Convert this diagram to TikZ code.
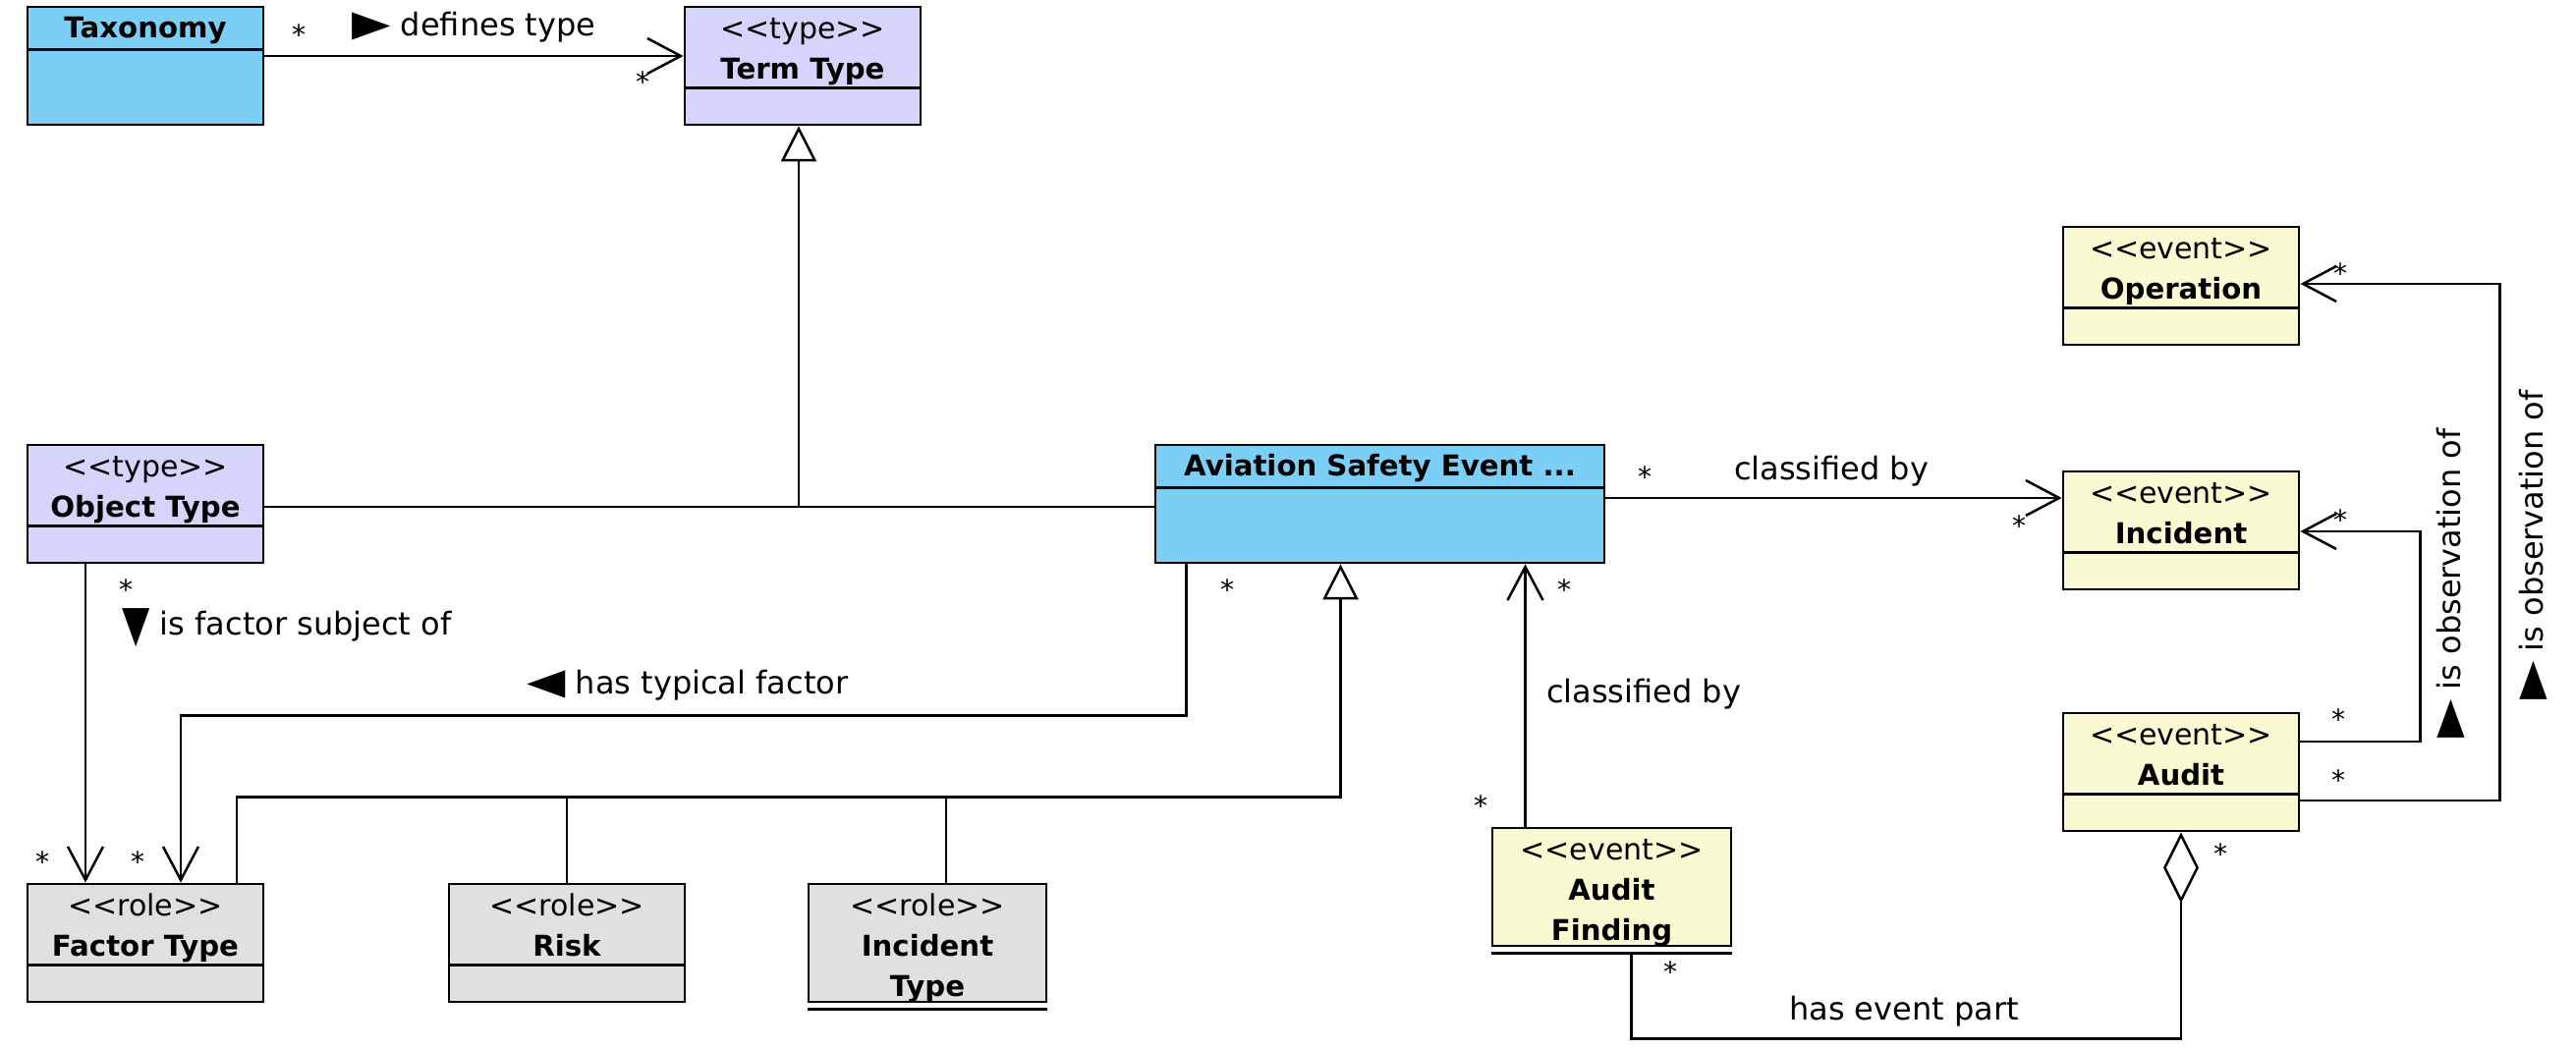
\documentclass[tikz,border=0pt]{standalone}
\usepackage{fontspec}
\usepackage{graphicx}
\setmainfont{DejaVu Sans}
\usetikzlibrary{arrows.meta,calc}

\definecolor{skyBlue}{RGB}{123,206,244}
\definecolor{typeLilac}{RGB}{213,212,250}
\definecolor{roleGray}{RGB}{224,224,224}
\definecolor{eventYellow}{RGB}{250,250,210}

\newcommand{\stereotype}[1]{<\kern0pt<#1>\kern0pt>}
\newcommand{\rdir}{\scalebox{1.6}[1.15]{▶}}
\newcommand{\ldir}{\scalebox{1.6}[1.15]{◀}}
\newcommand{\ddir}{\raisebox{-3pt}{\scalebox{1.15}[1.6]{▼}}}

\tikzset{
	umlbox/.style = {draw, line width = 1.4pt, minimum width = 120pt, minimum height = 60pt, inner sep = 0pt},
	umlline/.style = {line width = 1.4pt},
	stereo/.style = {font = \fontsize{15}{18}\selectfont, inner sep = 0pt, text height = 12.5pt, text depth = 2pt},
	cname/.style = {font = \bfseries\fontsize{14.6}{18}\selectfont, inner sep = 0pt, text height = 12.5pt, text depth = 2pt},
	lbl/.style = {font = \fontsize{16}{19}\selectfont, inner sep = 0pt, text height = 12pt, text depth = 3.5pt},
	mult/.style = {font = \fontsize{14}{16}\selectfont, inner sep = 0pt, yshift = -3.5pt},
	conn/.style = {line width = 1.25pt},
	assoc/.style = {conn, -{Straight Barb[length = 17pt, width = 18pt]}},
	gen/.style = {conn, -{Triangle[open, fill = white, length = 18pt, width = 18pt]}},
	aggr/.style = {conn, {Diamond[open, fill = white, length = 36pt, width = 18pt]}-}
}

\begin{document}
\begin{tikzpicture}[x = 0.5pt, y = -0.5pt]
	\useasboundingbox (0, 0) rectangle (2622, 1068);
	
	% classes
	\node[umlbox, fill = skyBlue] (taxonomy) at (148, 67) {};
	\draw[umlline] ($(taxonomy.north west) + (0, 45)$) -- ($(taxonomy.north east) + (0, 45)$);
	\node[cname] (taxonomyname) at ($(taxonomy.north) + (0, 22)$) {Taxonomy};
	
	\node[umlbox, fill = typeLilac] (termtype) at (817, 67) {};
	\draw[umlline] ($(termtype.north west) + (0, 84)$) -- ($(termtype.north east) + (0, 84)$);
	\node[stereo] (termtypest) at ($(termtype.north) + (0, 23)$) {\stereotype{type}};
	\node[cname] (termtypename) at ($(termtype.north) + (0, 64)$) {Term Type};
	
	\node[umlbox, fill = typeLilac] (objecttype) at (148, 513) {};
	\draw[umlline] ($(objecttype.north west) + (0, 84)$) -- ($(objecttype.north east) + (0, 84)$);
	\node[stereo] (objecttypest) at ($(objecttype.north) + (0, 23)$) {\stereotype{type}};
	\node[cname] (objecttypename) at ($(objecttype.north) + (0, 64)$) {Object Type};
	
	\node[umlbox, fill = skyBlue, minimum width = 228.5pt] (ase) at (1404.5, 513) {};
	\draw[umlline] ($(ase.north west) + (0, 45)$) -- ($(ase.north east) + (0, 45)$);
	\node[cname] (asename) at ($(ase.north) + (0, 22)$) {Aviation Safety Event ...};
	
	\node[umlbox, fill = roleGray] (factortype) at (148, 960) {};
	\draw[umlline] ($(factortype.north west) + (0, 84)$) -- ($(factortype.north east) + (0, 84)$);
	\node[stereo] (factortypest) at ($(factortype.north) + (0, 23)$) {\stereotype{role}};
	\node[cname] (factortypename) at ($(factortype.north) + (0, 64)$) {Factor Type};
	
	\node[umlbox, fill = roleGray] (risk) at (577, 960) {};
	\draw[umlline] ($(risk.north west) + (0, 84)$) -- ($(risk.north east) + (0, 84)$);
	\node[stereo] (riskst) at ($(risk.north) + (0, 23)$) {\stereotype{role}};
	\node[cname] (riskname) at ($(risk.north) + (0, 64)$) {Risk};
	
	\node[umlbox, fill = roleGray, minimum width = 121pt] (incidenttype) at (944, 960) {};
	\draw[umlline] ($(incidenttype.south west) + (0, 6)$) -- ($(incidenttype.south east) + (0, 6)$);
	\node[stereo] (incidenttypest) at ($(incidenttype.north) + (0, 23)$) {\stereotype{role}};
	\node[cname] (incidenttypename) at ($(incidenttype.north) + (0, 64)$) {Incident};
	\node[cname] (incidenttypename2) at ($(incidenttype.north) + (0, 105)$) {Type};
	
	\node[umlbox, fill = eventYellow, minimum width = 121.5pt] (auditfinding) at (1640.5, 903) {};
	\draw[umlline] ($(auditfinding.south west) + (0, 6)$) -- ($(auditfinding.south east) + (0, 6)$);
	\node[stereo] (auditfindingst) at ($(auditfinding.north) + (0, 23)$) {\stereotype{event}};
	\node[cname] (auditfindingname) at ($(auditfinding.north) + (0, 64)$) {Audit};
	\node[cname] (auditfindingname2) at ($(auditfinding.north) + (0, 105)$) {Finding};
	
	\node[umlbox, fill = eventYellow] (operation) at (2220, 291) {};
	\draw[umlline] ($(operation.north west) + (0, 84)$) -- ($(operation.north east) + (0, 84)$);
	\node[stereo] (operationst) at ($(operation.north) + (0, 23)$) {\stereotype{event}};
	\node[cname] (operationname) at ($(operation.north) + (0, 64)$) {Operation};
	
	\node[umlbox, fill = eventYellow] (incident) at (2220, 540) {};
	\draw[umlline] ($(incident.north west) + (0, 84)$) -- ($(incident.north east) + (0, 84)$);
	\node[stereo] (incidentst) at ($(incident.north) + (0, 23)$) {\stereotype{event}};
	\node[cname] (incidentname) at ($(incident.north) + (0, 64)$) {Incident};
	
	\node[umlbox, fill = eventYellow] (audit) at (2220, 786) {};
	\draw[umlline] ($(audit.north west) + (0, 84)$) -- ($(audit.north east) + (0, 84)$);
	\node[stereo] (auditst) at ($(audit.north) + (0, 23)$) {\stereotype{event}};
	\node[cname] (auditname) at ($(audit.north) + (0, 64)$) {Audit};
	
	% Taxonomy -> Term Type
	\coordinate (taxend) at ($(taxonomy.east) + (0, -10)$);
	\draw[assoc] (taxend) -- (taxend -| termtype.west);
	\node[mult] (taxonomymult) at (304, 28) {*};
	\node[lbl, anchor = west] (definestype) at (358, 28) {\rdir\ defines type};
	\node[mult] (termtypemult) at (654, 76) {*};
	
	% generalization to Term Type
	\coordinate (objend) at ($(objecttype.east) + (0, 3)$);
	\coordinate (gentop) at ($(termtype.south) + (-4, 0)$);
	\draw[conn] (objend) -- (objend -| ase.west);
	\draw[gen] (objend -| gentop) -- (gentop);
	
	% Object Type -> Factor Type
	\coordinate (objdown) at ($(objecttype.south) + (-61, 0)$);
	\draw[assoc] (objdown) -- (objdown |- factortype.north);
	\node[mult] (objectmult) at (128, 593) {*};
	\node[lbl, anchor = west] (factorsubject) at (124, 638) {\ddir\ is factor subject of};
	\node[mult] (factormultA) at (43, 870) {*};
	
	% ASE -> Factor Type
	\coordinate (asedown) at ($(ase.south west) + (33, 0)$);
	\coordinate (factorin) at ($(factortype.north) + (36, 0)$);
	\draw[assoc] (asedown) |- ($(factorin) + (0, -170)$) -- (factorin);
	\node[mult] (asemultA) at (1249, 593) {*};
	\node[lbl, anchor = west] (typicalfactor) at (536, 698) {\ldir\ has typical factor};
	\node[mult] (factormultB) at (140, 870) {*};
	
	% generalization to ASE
	\coordinate (aseup) at ($(ase.south) + (-40, 0)$);
	\coordinate (rolebar) at ($(aseup) + (0, 237)$);
	\draw[gen] ($(factortype.north) + (93, 0)$) |- (rolebar) -- (aseup);
	\draw[conn] (risk.north) -- (risk.north |- rolebar);
	\coordinate (incidenttypeup) at ($(incidenttype.north) + (19, 0)$);
	\draw[conn] (incidenttypeup) -- (incidenttypeup |- rolebar);
	
	% ASE -> Incident
	\coordinate (aseright) at ($(ase.east) + (0, -6)$);
	\draw[assoc] (aseright) -- (aseright -| incident.west);
	\node[mult] (asemultC) at (1674, 478) {*};
	\node[lbl] (classifiedA) at (1864, 480) {classified by};
	\node[mult] (incidentmultA) at (2055, 528) {*};
	
	% Audit Finding -> ASE
	\coordinate (findingup) at ($(auditfinding.north) + (-88, 0)$);
	\draw[assoc] (findingup) -- (findingup |- ase.south);
	\node[mult] (asemultB) at (1592, 593) {*};
	\node[lbl] (classifiedB) at (1673, 707) {classified by};
	\node[mult] (findingmultA) at (1507, 813) {*};
	
	% Audit <>- Audit Finding
	\coordinate (findingdown) at ($(auditfinding.south) + (20, 6)$);
	\draw[aggr] (audit.south) |- ($(findingdown) + (0, 87)$) -- (findingdown);
	\node[mult] (auditmultA) at (2260, 862) {*};
	\node[mult] (findingmultB) at (1700, 982) {*};
	\node[lbl] (eventpart) at (1938, 1030) {has event part};
	
	% Audit -> Incident
	\coordinate (incidentin) at ($(incident.east) + (0, 1)$);
	\draw[assoc] ($(audit.east) + (0, -31)$) -| ($(incidentin) + (122, 0)$) -- (incidentin);
	\node[mult] (incidentmultB) at (2382, 522) {*};
	\node[mult] (auditmultB) at (2380, 725) {*};
	\node[lbl, rotate = 90] (observeA) at (2496, 594) {\rdir\ is observation of};
	
	% Audit -> Operation
	\coordinate (operationin) at ($(operation.east) + (0, -2)$);
	\draw[assoc] ($(audit.east) + (0, 29)$) -| ($(operationin) + (203, 0)$) -- (operationin);
	\node[mult] (operationmult) at (2382, 271) {*};
	\node[mult] (auditmultC) at (2380, 787) {*};
	\node[lbl, rotate = 90] (observeB) at (2580, 555) {\rdir\ is observation of};
\end{tikzpicture}
\end{document}
